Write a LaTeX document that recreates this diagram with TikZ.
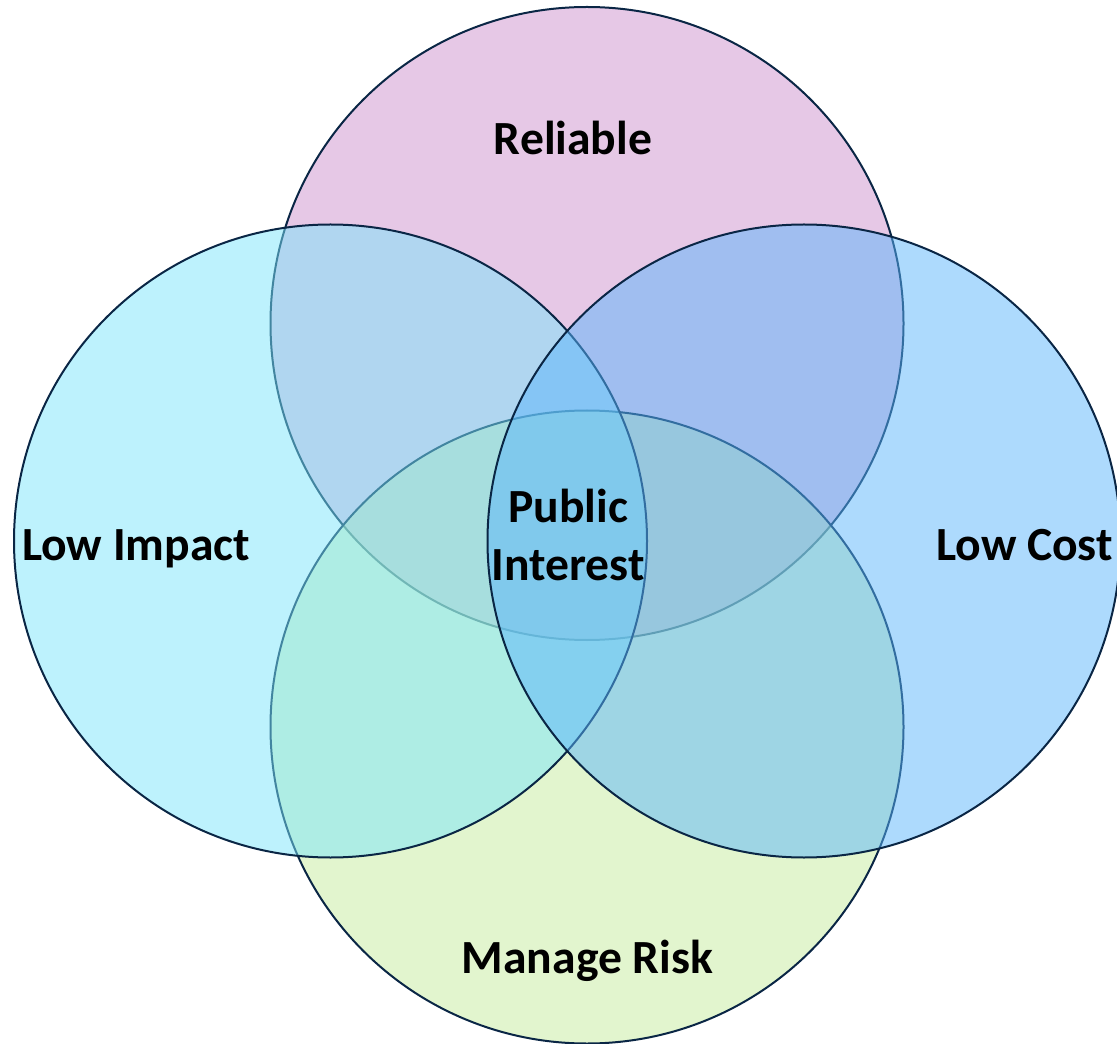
\documentclass[tikz,border=0pt]{standalone}
\usepackage{fontspec}
\setmainfont{Carlito}
\definecolor{edge}{HTML}{0A2645}
\definecolor{cpink}{RGB}{205,145,205}
\definecolor{ccyan}{RGB}{123,229,251}
\definecolor{cblue}{RGB}{91,181,251}
\definecolor{cgreen}{RGB}{197,235,157}
\tikzset{
  venn/.style={draw=edge, line width=1.5pt, fill opacity=0.5},
  lbl/.style={font=\fontsize{35.7}{43.5}\selectfont\bfseries, text=black, inner sep=0pt}
}
\begin{document}
\begin{tikzpicture}[x=0.75pt,y=-0.75pt]
\useasboundingbox (0,0) rectangle (1117,1044);
\begin{scope}
\clip (0,0) rectangle (1117,1044);
\path[venn, fill=cpink] (587,323.5) circle[radius=316.5];
\path[venn, fill=cgreen] (587,727) circle[radius=316.5];
\path[venn, fill=ccyan] (330.5,541) circle[radius=316.5];
\path[venn, fill=cblue] (804,541) circle[radius=316.5];
\end{scope}
\node[lbl, anchor=base] (rel) at (573,155) {Reliable};
\node[lbl, anchor=base] (risk) at (587.5,973) {Manage Risk};
\node[lbl, anchor=base] (imp) at (136,560) {Low Impact};
\node[lbl, anchor=base] (cost) at (1024.5,560) {Low Cost};
\node[lbl, align=center, anchor=base] (pub) at (568,580) {Public\\Interest};
\end{tikzpicture}
\end{document}
